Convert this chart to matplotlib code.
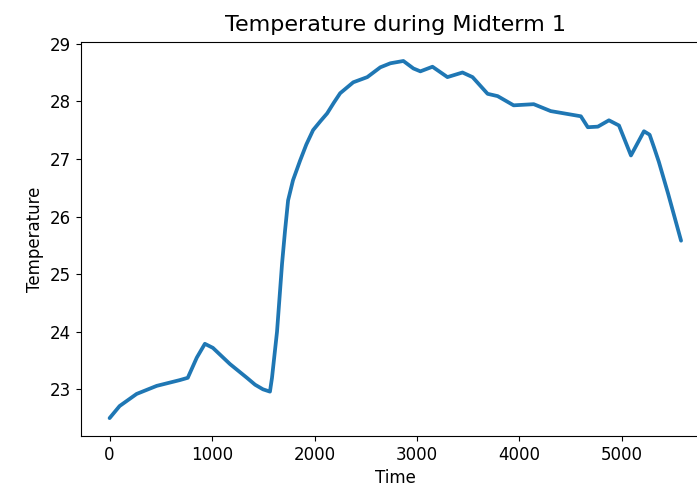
import matplotlib
matplotlib.use("Agg")
import matplotlib.pyplot as plt

# values
time = [0, 98, 264, 460, 685, 763, 851, 930, 1008, 1174, 1340, 1420, 1497,
        1565, 1585, 1634, 1683, 1712, 1742, 1790, 1859, 1920, 1986, 2060,
        2123, 2190, 2250, 2378, 2515, 2642, 2740, 2867, 2965, 3033, 3151,
        3297, 3444, 3542, 3689, 3787, 3943, 4139, 4305, 4599, 4667, 4765,
        4873, 4971, 5088, 5215, 5270, 5313, 5360, 5450, 5577]
temp = [22.50, 22.71, 22.92, 23.06, 23.16, 23.20, 23.55, 23.79, 23.72, 23.44,
        23.20, 23.08, 23.00, 22.96, 23.20, 24.00, 25.18, 25.75, 26.28, 26.63,
        26.97, 27.25, 27.50, 27.66, 27.79, 27.98, 28.14, 28.33, 28.42, 28.59,
        28.66, 28.70, 28.57, 28.52, 28.60, 28.42, 28.50, 28.42, 28.13, 28.09,
        27.93, 27.95, 27.83, 27.74, 27.55, 27.56, 27.67, 27.58, 27.06, 27.48,
        27.42, 27.20, 26.95, 26.40, 25.58]

fig = plt.figure(figsize=(6.97, 4.88), dpi=100)
# axes runs past the right edge, the reference image is cropped there
ax = fig.add_axes([0.1162, 0.1066, 0.9024, 0.8074])
ax.plot(time, temp, color="#1f77b4", linewidth=2.7, solid_capstyle="round",
        solid_joinstyle="round")

ax.set_title("Temperature during Midterm 1", fontsize=16, pad=8)
ax.set_xlabel("Time", fontsize=12)
ax.set_ylabel("Temperature", fontsize=12)
ax.tick_params(labelsize=12)
ax.set_xticks([0, 1000, 2000, 3000, 4000, 5000])
ax.set_yticks([23, 24, 25, 26, 27, 28, 29])
ax.set_xlim(-279, 5859)
ax.set_ylim(22.19, 29.03)

fig.savefig("out.png", dpi=100)
